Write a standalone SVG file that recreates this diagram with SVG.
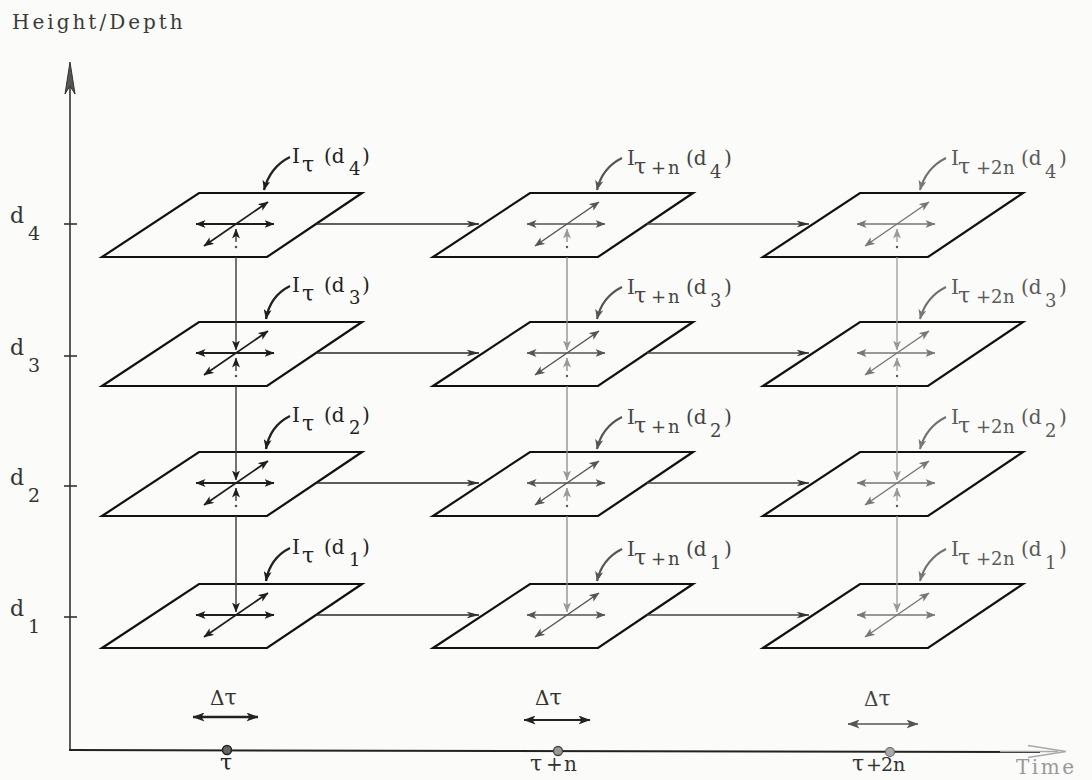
<svg xmlns="http://www.w3.org/2000/svg" width="1092" height="780" viewBox="0 0 1092 780">
<defs>
<style>
.bg{fill:#fbfbf9}
.pl{fill:#fbfbf9;stroke:#111;stroke-width:2.2;stroke-linejoin:miter}
.t{font-family:"DejaVu Serif","Liberation Serif",serif;}
.lbl{font-size:20px}
.sb{font-size:18px}
.tau{font-size:22px}
.s1{stroke:#1e1e1e;stroke-width:1.8;fill:none}
.s2{stroke:#555;stroke-width:1.5;fill:none}
.s3{stroke:#777;stroke-width:1.4;fill:none}
.ld1{stroke:#222;stroke-width:2.4;fill:none}
.ld2{stroke:#555;stroke-width:2.2;fill:none}
.ld3{stroke:#707070;stroke-width:2;fill:none}
.h{stroke:#2a2a2a;stroke-width:1.7;fill:none}
.h2{stroke:#444;stroke-width:1.6;fill:none}
.v1{stroke:#3a3a3a;stroke-width:1.4;fill:none}
.v2{stroke:#8a8a8a;stroke-width:1.3;fill:none}
.v3{stroke:#9a9a9a;stroke-width:1.3;fill:none}
</style>
<marker id="a1" viewBox="0 0 10 8" refX="9.5" refY="4" markerWidth="10" markerHeight="8" markerUnits="userSpaceOnUse" orient="auto-start-reverse"><path d="M0,0 L10,4 L0,8 L2.5,4 z" fill="#1e1e1e"/></marker>
<marker id="a2" viewBox="0 0 10 8" refX="9.5" refY="4" markerWidth="10" markerHeight="8" markerUnits="userSpaceOnUse" orient="auto-start-reverse"><path d="M0,0 L10,4 L0,8 L2.5,4 z" fill="#555"/></marker>
<marker id="a3" viewBox="0 0 10 8" refX="9.5" refY="4" markerWidth="10" markerHeight="8" markerUnits="userSpaceOnUse" orient="auto-start-reverse"><path d="M0,0 L10,4 L0,8 L2.5,4 z" fill="#777"/></marker>
<marker id="a9" viewBox="0 0 10 8" refX="9.5" refY="4" markerWidth="10" markerHeight="8" markerUnits="userSpaceOnUse" orient="auto-start-reverse"><path d="M0,0 L10,4 L0,8 L2.5,4 z" fill="#999"/></marker>
<marker id="ah" viewBox="0 0 13 8" refX="12.5" refY="4" markerWidth="13" markerHeight="8" markerUnits="userSpaceOnUse" orient="auto"><path d="M0,0.5 L13,4 L0,7.5 L3.5,4 z" fill="#333"/></marker>
<marker id="ad" viewBox="0 0 12 9" refX="11.5" refY="4.5" markerWidth="12" markerHeight="9" markerUnits="userSpaceOnUse" orient="auto-start-reverse"><path d="M0,0 L12,4.5 L0,9 L3,4.5 z" fill="#222"/></marker>
<marker id="ad3" viewBox="0 0 12 9" refX="11.5" refY="4.5" markerWidth="12" markerHeight="9" markerUnits="userSpaceOnUse" orient="auto-start-reverse"><path d="M0,0 L12,4.5 L0,9 L3,4.5 z" fill="#555"/></marker>
</defs>
<rect class="bg" x="0" y="0" width="1092" height="780"/>

<g id="axes">
<text class="t" x="12" y="29" font-size="20" letter-spacing="3" fill="#3a3a3a">Height/Depth</text>
<line x1="70" y1="750" x2="70" y2="70" stroke="#333" stroke-width="1.6"/>
<path d="M65,94 L70,62 L75,94 L70,86 z" fill="#555" stroke="#333" stroke-width="1"/>
<line x1="69" y1="750" x2="1040" y2="752" stroke="#222" stroke-width="2"/>
<line x1="1000" y1="751.5" x2="1058" y2="751.5" stroke="#aaa" stroke-width="1.6"/>
<path d="M1028,745.5 L1066,751.5 L1028,757.5" fill="none" stroke="#aaa" stroke-width="1.6"/>
<text class="t" x="1016" y="774" font-size="20" letter-spacing="2.5" fill="#999">Time</text>
<g stroke="#333" stroke-width="1.6">
<line x1="64" y1="224" x2="77" y2="224"/>
<line x1="64" y1="356" x2="77" y2="356"/>
<line x1="64" y1="486" x2="77" y2="486"/>
<line x1="64" y1="617" x2="77" y2="617"/>
</g>
<g class="t" fill="#333">
<text x="10" y="223" font-size="22">d</text><text x="28" y="240" font-size="19">4</text>
<text x="10" y="355" font-size="22">d</text><text x="28" y="372" font-size="19">3</text>
<text x="10" y="485" font-size="22">d</text><text x="28" y="502" font-size="19">2</text>
<text x="10" y="616" font-size="22">d</text><text x="28" y="633" font-size="19">1</text>
</g>
<circle cx="227" cy="750" r="4.5" fill="#666" stroke="#222" stroke-width="1.5"/>
<circle cx="558" cy="751" r="4.5" fill="#999" stroke="#444" stroke-width="1.3"/>
<circle cx="890" cy="752" r="4.5" fill="#aaa" stroke="#666" stroke-width="1.2"/>
<text class="t" font-size="22" fill="#222"><tspan x="220" y="770">τ</tspan></text>
<text class="t" font-size="20" fill="#333"><tspan class="tau" x="530" y="771">τ</tspan><tspan x="546" y="771">+</tspan><tspan x="564" y="771">n</tspan></text>
<text class="t" font-size="19" fill="#333"><tspan class="tau" x="852" y="771">τ</tspan><tspan x="866" y="771">+</tspan><tspan x="881" y="771">2</tspan><tspan x="893" y="771">n</tspan></text>
<text class="t" x="210" y="705" font-size="20" fill="#333">Δ<tspan class="tau">τ</tspan></text>
<text class="t" x="535" y="705" font-size="20" fill="#333">Δ<tspan class="tau">τ</tspan></text>
<text class="t" x="864" y="706" font-size="20" fill="#444">Δ<tspan class="tau">τ</tspan></text>
<line x1="193" y1="717" x2="258" y2="717" stroke="#222" stroke-width="2.4" marker-start="url(#ad)" marker-end="url(#ad)"/>
<line x1="524" y1="720" x2="590" y2="720" stroke="#222" stroke-width="2.2" marker-start="url(#ad)" marker-end="url(#ad)"/>
<line x1="848" y1="724" x2="918" y2="724" stroke="#555" stroke-width="1.6" marker-start="url(#ad3)" marker-end="url(#ad3)"/>
</g>

<!-- Column 1 -->
<g id="I_t_d4">
<polygon class="pl" points="102,257 199,193 362,193 267,257"/>
<path class="s1" d="M236,224 L196,224" marker-end="url(#a1)"/>
<path class="s1" d="M236,224 L274,224" marker-end="url(#a1)"/>
<path class="s1" d="M204,246 L268,202" marker-start="url(#a1)" marker-end="url(#a1)"/>
<path class="ld1" d="M290,157 Q270,167 264,190" marker-end="url(#a1)"/>
<text class="t lbl" fill="#222"><tspan x="292" y="163">I</tspan><tspan class="tau" x="302" y="172">τ</tspan><tspan x="324" y="163">(d</tspan><tspan class="sb" x="349" y="175">4</tspan><tspan x="362" y="163">)</tspan></text>
</g>
<g id="I_t_d3">
<polygon class="pl" points="102,386 199,322 362,322 267,386"/>
<path class="s1" d="M236,353 L196,353" marker-end="url(#a1)"/>
<path class="s1" d="M236,353 L274,353" marker-end="url(#a1)"/>
<path class="s1" d="M204,375 L268,331" marker-start="url(#a1)" marker-end="url(#a1)"/>
<path class="ld1" d="M290,286 Q270,296 266,319" marker-end="url(#a1)"/>
<text class="t lbl" fill="#222"><tspan x="292" y="292">I</tspan><tspan class="tau" x="302" y="301">τ</tspan><tspan x="324" y="292">(d</tspan><tspan class="sb" x="349" y="304">3</tspan><tspan x="362" y="292">)</tspan></text>
</g>
<g id="I_t_d2">
<polygon class="pl" points="102,516 199,452 362,452 267,516"/>
<path class="s1" d="M236,483 L196,483" marker-end="url(#a1)"/>
<path class="s1" d="M236,483 L274,483" marker-end="url(#a1)"/>
<path class="s1" d="M204,505 L268,461" marker-start="url(#a1)" marker-end="url(#a1)"/>
<path class="ld1" d="M290,416 Q270,426 266,449" marker-end="url(#a1)"/>
<text class="t lbl" fill="#222"><tspan x="292" y="422">I</tspan><tspan class="tau" x="302" y="431">τ</tspan><tspan x="324" y="422">(d</tspan><tspan class="sb" x="349" y="434">2</tspan><tspan x="362" y="422">)</tspan></text>
</g>
<g id="I_t_d1">
<polygon class="pl" points="102,648 199,584 362,584 267,648"/>
<path class="s1" d="M236,615 L196,615" marker-end="url(#a1)"/>
<path class="s1" d="M236,615 L274,615" marker-end="url(#a1)"/>
<path class="s1" d="M204,637 L268,593" marker-start="url(#a1)" marker-end="url(#a1)"/>
<path class="ld1" d="M290,548 Q270,558 266,581" marker-end="url(#a1)"/>
<text class="t lbl" fill="#222"><tspan x="292" y="554">I</tspan><tspan class="tau" x="302" y="563">τ</tspan><tspan x="324" y="554">(d</tspan><tspan class="sb" x="349" y="566">1</tspan><tspan x="362" y="554">)</tspan></text>
</g>

<!-- Column 2 -->
<g id="I_tn_d4">
<polygon class="pl" points="433,257 530,193 693,193 598,257"/>
<path class="s2" d="M567,224 L527,224" marker-end="url(#a2)"/>
<path class="s2" d="M567,224 L605,224" marker-end="url(#a2)"/>
<path class="s2" d="M535,246 L599,202" marker-start="url(#a2)" marker-end="url(#a2)"/>
<path class="ld2" d="M622,158 Q602,168 597,190" marker-end="url(#a2)"/>
<text class="t lbl" fill="#444"><tspan x="627" y="165">I</tspan><tspan class="tau" x="634" y="174">τ</tspan><tspan class="sb" x="651" y="174">+</tspan><tspan class="sb" x="668" y="174">n</tspan><tspan x="686" y="165">(d</tspan><tspan class="sb" x="710" y="178">4</tspan><tspan x="724" y="165">)</tspan></text>
</g>
<g id="I_tn_d3">
<polygon class="pl" points="433,386 530,322 693,322 598,386"/>
<path class="s2" d="M567,353 L527,353" marker-end="url(#a2)"/>
<path class="s2" d="M567,353 L605,353" marker-end="url(#a2)"/>
<path class="s2" d="M535,375 L599,331" marker-start="url(#a2)" marker-end="url(#a2)"/>
<path class="ld2" d="M622,287 Q602,297 597,319" marker-end="url(#a2)"/>
<text class="t lbl" fill="#444"><tspan x="627" y="294">I</tspan><tspan class="tau" x="634" y="303">τ</tspan><tspan class="sb" x="651" y="303">+</tspan><tspan class="sb" x="668" y="303">n</tspan><tspan x="686" y="294">(d</tspan><tspan class="sb" x="710" y="307">3</tspan><tspan x="724" y="294">)</tspan></text>
</g>
<g id="I_tn_d2">
<polygon class="pl" points="433,516 530,452 693,452 598,516"/>
<path class="s2" d="M567,483 L527,483" marker-end="url(#a2)"/>
<path class="s2" d="M567,483 L605,483" marker-end="url(#a2)"/>
<path class="s2" d="M535,505 L599,461" marker-start="url(#a2)" marker-end="url(#a2)"/>
<path class="ld2" d="M622,417 Q602,427 597,449" marker-end="url(#a2)"/>
<text class="t lbl" fill="#444"><tspan x="627" y="424">I</tspan><tspan class="tau" x="634" y="433">τ</tspan><tspan class="sb" x="651" y="433">+</tspan><tspan class="sb" x="668" y="433">n</tspan><tspan x="686" y="424">(d</tspan><tspan class="sb" x="710" y="437">2</tspan><tspan x="724" y="424">)</tspan></text>
</g>
<g id="I_tn_d1">
<polygon class="pl" points="433,648 530,584 693,584 598,648"/>
<path class="s2" d="M567,615 L527,615" marker-end="url(#a2)"/>
<path class="s2" d="M567,615 L605,615" marker-end="url(#a2)"/>
<path class="s2" d="M535,637 L599,593" marker-start="url(#a2)" marker-end="url(#a2)"/>
<path class="ld2" d="M622,549 Q602,559 597,581" marker-end="url(#a2)"/>
<text class="t lbl" fill="#444"><tspan x="627" y="556">I</tspan><tspan class="tau" x="634" y="565">τ</tspan><tspan class="sb" x="651" y="565">+</tspan><tspan class="sb" x="668" y="565">n</tspan><tspan x="686" y="556">(d</tspan><tspan class="sb" x="710" y="569">1</tspan><tspan x="724" y="556">)</tspan></text>
</g>

<!-- Column 3 -->
<g id="I_t2n_d4">
<polygon class="pl" points="763,257 860,193 1023,193 928,257"/>
<path class="s3" d="M897,224 L857,224" marker-end="url(#a3)"/>
<path class="s3" d="M897,224 L935,224" marker-end="url(#a3)"/>
<path class="s3" d="M865,246 L929,202" marker-start="url(#a3)" marker-end="url(#a3)"/>
<path class="ld3" d="M946,158 Q926,168 920,190" marker-end="url(#a3)"/>
<text class="t lbl" fill="#5a5a5a"><tspan x="951" y="165">I</tspan><tspan class="tau" x="958" y="174">τ</tspan><tspan class="sb" x="976" y="174">+</tspan><tspan class="sb" x="991" y="174">2</tspan><tspan class="sb" x="1003" y="174">n</tspan><tspan x="1021" y="165">(d</tspan><tspan class="sb" x="1045" y="178">4</tspan><tspan x="1059" y="165">)</tspan></text>
</g>
<g id="I_t2n_d3">
<polygon class="pl" points="763,386 860,322 1023,322 928,386"/>
<path class="s3" d="M897,353 L857,353" marker-end="url(#a3)"/>
<path class="s3" d="M897,353 L935,353" marker-end="url(#a3)"/>
<path class="s3" d="M865,375 L929,331" marker-start="url(#a3)" marker-end="url(#a3)"/>
<path class="ld3" d="M946,287 Q926,297 920,319" marker-end="url(#a3)"/>
<text class="t lbl" fill="#5a5a5a"><tspan x="951" y="294">I</tspan><tspan class="tau" x="958" y="303">τ</tspan><tspan class="sb" x="976" y="303">+</tspan><tspan class="sb" x="991" y="303">2</tspan><tspan class="sb" x="1003" y="303">n</tspan><tspan x="1021" y="294">(d</tspan><tspan class="sb" x="1045" y="307">3</tspan><tspan x="1059" y="294">)</tspan></text>
</g>
<g id="I_t2n_d2">
<polygon class="pl" points="763,516 860,452 1023,452 928,516"/>
<path class="s3" d="M897,483 L857,483" marker-end="url(#a3)"/>
<path class="s3" d="M897,483 L935,483" marker-end="url(#a3)"/>
<path class="s3" d="M865,505 L929,461" marker-start="url(#a3)" marker-end="url(#a3)"/>
<path class="ld3" d="M946,417 Q926,427 920,449" marker-end="url(#a3)"/>
<text class="t lbl" fill="#5a5a5a"><tspan x="951" y="424">I</tspan><tspan class="tau" x="958" y="433">τ</tspan><tspan class="sb" x="976" y="433">+</tspan><tspan class="sb" x="991" y="433">2</tspan><tspan class="sb" x="1003" y="433">n</tspan><tspan x="1021" y="424">(d</tspan><tspan class="sb" x="1045" y="437">2</tspan><tspan x="1059" y="424">)</tspan></text>
</g>
<g id="I_t2n_d1">
<polygon class="pl" points="763,648 860,584 1023,584 928,648"/>
<path class="s3" d="M897,615 L857,615" marker-end="url(#a3)"/>
<path class="s3" d="M897,615 L935,615" marker-end="url(#a3)"/>
<path class="s3" d="M865,637 L929,593" marker-start="url(#a3)" marker-end="url(#a3)"/>
<path class="ld3" d="M946,549 Q926,559 920,581" marker-end="url(#a3)"/>
<text class="t lbl" fill="#5a5a5a"><tspan x="951" y="556">I</tspan><tspan class="tau" x="958" y="565">τ</tspan><tspan class="sb" x="976" y="565">+</tspan><tspan class="sb" x="991" y="565">2</tspan><tspan class="sb" x="1003" y="565">n</tspan><tspan x="1021" y="556">(d</tspan><tspan class="sb" x="1045" y="569">1</tspan><tspan x="1059" y="556">)</tspan></text>
</g>

<g id="connectors">
<path class="h" d="M316,224 L479,224" marker-end="url(#ah)"/>
<path class="h" d="M316,353 L479,353" marker-end="url(#ah)"/>
<path class="h" d="M316,483 L479,483" marker-end="url(#ah)"/>
<path class="h" d="M316,615 L479,615" marker-end="url(#ah)"/>
<path class="h2" d="M647,224 L809,224" marker-end="url(#ah)"/>
<path class="h2" d="M647,353 L809,353" marker-end="url(#ah)"/>
<path class="h2" d="M647,483 L809,483" marker-end="url(#ah)"/>
<path class="h2" d="M647,615 L809,615" marker-end="url(#ah)"/>
<path class="v1" d="M236,257 L236,350" marker-end="url(#a1)"/>
<path class="v1" d="M236,386 L236,480" marker-end="url(#a1)"/>
<path class="v1" d="M236,516 L236,612" marker-end="url(#a1)"/>
<path class="v1" d="M236,242 L236,229" marker-end="url(#a1)"/>
<path class="v1" d="M236,371 L236,358" marker-end="url(#a1)"/>
<path class="v1" d="M236,501 L236,488" marker-end="url(#a1)"/>
<path class="v2" d="M567,257 L567,350" marker-end="url(#a9)"/>
<path class="v2" d="M567,386 L567,480" marker-end="url(#a9)"/>
<path class="v2" d="M567,516 L567,612" marker-end="url(#a9)"/>
<path class="v2" d="M567,242 L567,229" marker-end="url(#a9)"/>
<path class="v2" d="M567,371 L567,358" marker-end="url(#a9)"/>
<path class="v2" d="M567,501 L567,488" marker-end="url(#a9)"/>
<path class="v3" d="M897,257 L897,350" marker-end="url(#a9)"/>
<path class="v3" d="M897,386 L897,480" marker-end="url(#a9)"/>
<path class="v3" d="M897,516 L897,612" marker-end="url(#a9)"/>
<path class="v3" d="M897,242 L897,229" marker-end="url(#a9)"/>
<path class="v3" d="M897,371 L897,358" marker-end="url(#a9)"/>
<path class="v3" d="M897,501 L897,488" marker-end="url(#a9)"/>
<g fill="#555">
<circle cx="236" cy="247" r="1.3"/><circle cx="236" cy="376" r="1.3"/><circle cx="236" cy="506" r="1.3"/>
<circle cx="567" cy="247" r="1.2"/><circle cx="567" cy="376" r="1.2"/><circle cx="567" cy="506" r="1.2"/>
<circle cx="897" cy="247" r="1.2"/><circle cx="897" cy="376" r="1.2"/><circle cx="897" cy="506" r="1.2"/>
</g>
</g>
</svg>
